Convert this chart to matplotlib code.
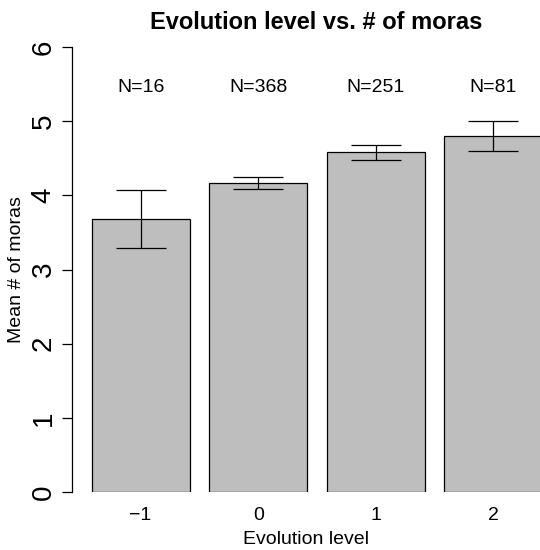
import matplotlib
matplotlib.use("Agg")
import matplotlib.pyplot as plt

plt.rcParams['font.family'] = ['Liberation Sans', 'DejaVu Sans']

levels = ["\u22121", "0", "1", "2"]
means = [3.68, 4.17, 4.58, 4.80]
errs = [0.39, 0.08, 0.10, 0.20]
counts = [16, 368, 251, 81]
yticks = [0, 1, 2, 3, 4, 5, 6]

W, H = 540, 550
fig = plt.figure(figsize=(W / 100, H / 100), dpi=100)
left, right = 72 / W, 1.0
bottom, top = 1 - 492 / H, 1 - 47 / H
ax = fig.add_axes([left, bottom, right - left, top - bottom])

centers = [0.7 + 1.2 * i for i in range(len(means))]
ax.bar(centers, means, width=1.0, color="#BEBEBE", edgecolor="black", linewidth=0.9)
ax.errorbar(centers, means, yerr=errs, fmt="none", ecolor="black", elinewidth=0.9,
            capsize=18, capthick=0.9)
for c, n in zip(centers, counts):
    ax.text(c, 5.45, f"N={n}", ha="center", va="center", fontsize=14)

ax.set_xlim(0, (540 - 72) / 98)
ax.set_ylim(0, 6)
for s in ["top", "right", "bottom"]:
    ax.spines[s].set_visible(False)
ax.spines["left"].set_bounds(0, 6)
ax.spines["left"].set_linewidth(0.9)
ax.set_yticks(yticks)
ax.set_yticklabels([str(t) for t in yticks], rotation=90, va="center", fontsize=20)
ax.tick_params(axis="y", length=7, width=0.9, pad=4)
ax.set_xticks(centers)
ax.set_xticklabels(levels, fontsize=14)
ax.tick_params(axis="x", length=0, pad=11)
ax.set_xlabel("Evolution level", fontsize=14, labelpad=5)
ax.set_ylabel("Mean # of moras", fontsize=14, labelpad=4)
ax.set_title("Evolution level vs. # of moras", fontsize=17, fontweight="bold",
             pad=13, x=0.521)

fig.savefig("out.png", dpi=100)
